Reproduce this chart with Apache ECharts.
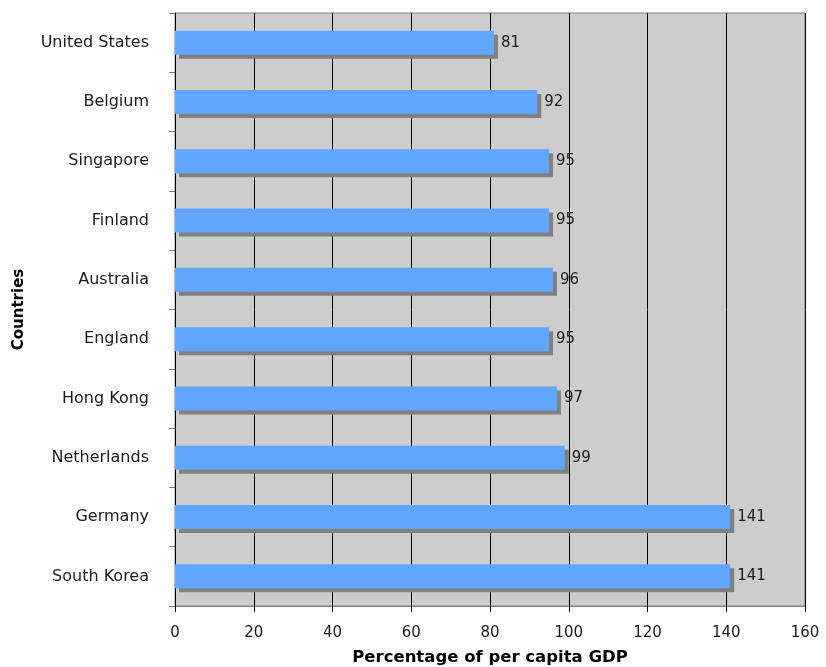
<!DOCTYPE html>
<html><head><meta charset="utf-8">
<script src="https://cdn.jsdelivr.net/npm/echarts@6/dist/echarts.min.js"></script>
<style>html,body{margin:0;padding:0;background:#fff}#c{width:826px;height:667px}</style>
</head><body><div id="c"></div>
<script>
var countries = ['United States','Belgium','Singapore','Finland','Australia','England','Hong Kong','Netherlands','Germany','South Korea'];
var values = [81, 92, 95, 95, 96, 95, 97, 99, 141, 141];
var xTicks = {min: 0, max: 160, interval: 20};
var font = 'DejaVu Sans';
var chart = echarts.init(document.getElementById('c'));
chart.setOption({
  animation: false,
  grid: {left: 175, right: 21, top: 13, bottom: 61, show: true, backgroundColor: '#CDCDCD', borderColor: '#808080', borderWidth: 1, containLabel: false, outerBoundsMode: 'none'},
  xAxis: {
    type: 'value', min: xTicks.min, max: xTicks.max, interval: xTicks.interval,
    name: 'Percentage of per capita GDP', nameLocation: 'middle', nameGap: 43,
    nameTextStyle: {fontFamily: font, fontWeight: 'bold', fontSize: 16.5, color: '#000'},
    axisLine: {show: true, lineStyle: {color: '#808080'}},
    axisTick: {show: true, length: 6, lineStyle: {color: '#000'}},
    axisLabel: {fontFamily: font, fontSize: 15, color: '#1a1a1a', margin: 20},
    splitLine: {show: true, lineStyle: {color: '#000', width: 1}}
  },
  yAxis: {
    type: 'category', data: countries, inverse: true,
    name: 'Countries', nameLocation: 'middle', nameGap: 148, nameRotate: 90,
    nameTextStyle: {fontFamily: font, fontWeight: 'bold', fontSize: 15, color: '#000'},
    axisLine: {show: true, lineStyle: {color: '#000'}},
    axisTick: {show: true, length: 6, lineStyle: {color: '#808080'}},
    axisLabel: {fontFamily: font, fontSize: 16, color: '#1a1a1a', margin: 26},
    splitLine: {show: false}
  },
  series: [{
    type: 'bar', data: values, barWidth: 24,
    itemStyle: {color: '#60A5FF', shadowColor: '#808080', shadowOffsetX: 4, shadowOffsetY: 4, shadowBlur: 0},
    label: {show: true, position: 'right', distance: 7, fontFamily: font, fontSize: 15, color: '#1a1a1a'}
  }]
});
</script></body></html>
